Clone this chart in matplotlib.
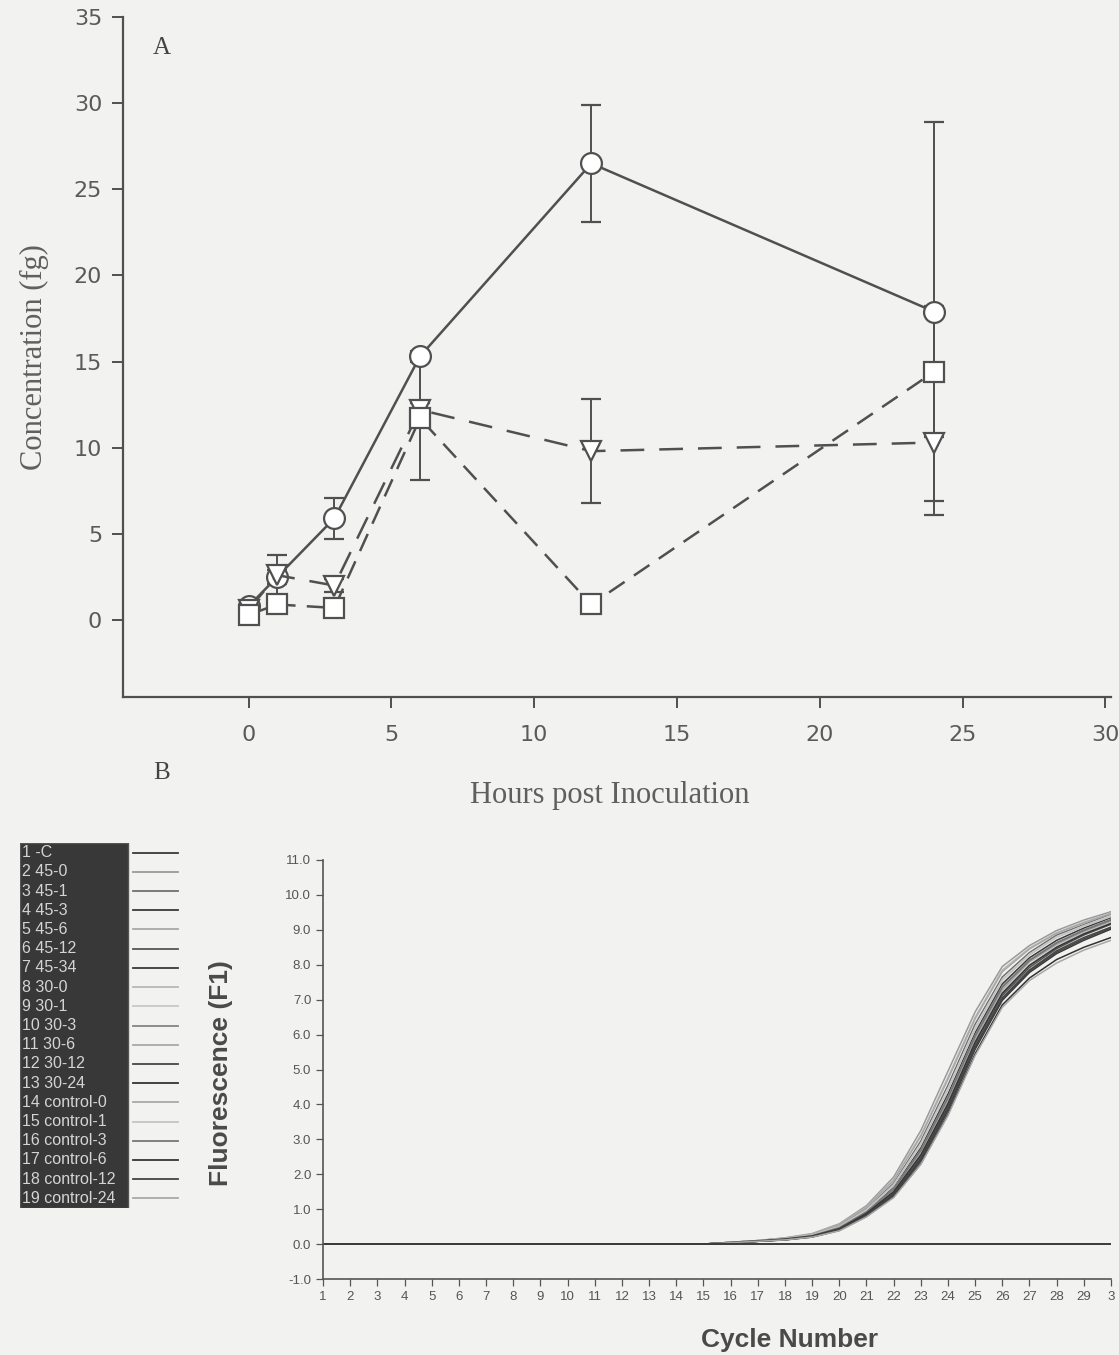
"""Two-panel figure: concentration time course (A) and real-time PCR amplification curves (B)."""

import matplotlib

matplotlib.use("Agg")
import matplotlib.pyplot as plt
from matplotlib.ticker import FormatStrFormatter

# ---- Panel A data: concentration (fg) vs hours post inoculation ----
hours = [0, 1, 3, 6, 12, 24]
conc_circle = [0.8, 2.5, 5.9, 15.3, 26.5, 17.9]
err_circle = [0.3, 0.4, 1.2, 0.3, 3.4, 11.0]
conc_triangle = [0.6, 2.6, 2.0, 12.2, 9.8, 10.3]
err_triangle = [0.2, 1.2, 0.4, 0.4, 3.0, 4.2]
conc_square = [0.3, 0.9, 0.7, 11.7, 0.9, 14.4]
err_square = [0.2, 0.3, 0.2, 3.6, 0.2, 3.8]

# ---- Panel B data: fluorescence (F1) vs cycle number ----
cycles = list(range(1, 31))
flat_part = [0.0] * 15  # cycles 1-15 sit on the baseline
neg_control = [0.0] * 30
curves_45 = [
    [0.05, 0.10, 0.18, 0.30, 0.58, 1.10, 1.92, 3.25, 4.95, 6.65, 7.95, 8.55, 8.98, 9.28, 9.52],
    [0.05, 0.10, 0.16, 0.27, 0.52, 1.00, 1.74, 2.95, 4.55, 6.30, 7.65, 8.35, 8.85, 9.15, 9.45],
    [0.05, 0.09, 0.15, 0.25, 0.48, 0.95, 1.62, 2.75, 4.30, 6.05, 7.45, 8.20, 8.70, 9.05, 9.35],
    [0.04, 0.09, 0.14, 0.24, 0.46, 0.91, 1.55, 2.62, 4.12, 5.88, 7.28, 8.08, 8.58, 8.95, 9.25],
    [0.04, 0.08, 0.13, 0.22, 0.43, 0.86, 1.46, 2.50, 3.96, 5.72, 7.12, 7.92, 8.46, 8.85, 9.16],
    [0.04, 0.08, 0.12, 0.21, 0.41, 0.82, 1.40, 2.38, 3.82, 5.58, 6.98, 7.78, 8.32, 8.70, 9.02],
]
curves_30 = [
    [0.05, 0.10, 0.17, 0.29, 0.56, 1.06, 1.85, 3.12, 4.78, 6.50, 7.85, 8.48, 8.92, 9.22, 9.48],
    [0.05, 0.10, 0.16, 0.26, 0.50, 0.98, 1.70, 2.88, 4.45, 6.20, 7.58, 8.30, 8.80, 9.12, 9.40],
    [0.05, 0.09, 0.15, 0.25, 0.47, 0.93, 1.60, 2.70, 4.22, 5.98, 7.38, 8.14, 8.64, 9.00, 9.30],
    [0.04, 0.09, 0.14, 0.23, 0.45, 0.89, 1.52, 2.57, 4.05, 5.80, 7.20, 8.00, 8.52, 8.90, 9.20],
    [0.04, 0.08, 0.13, 0.22, 0.42, 0.84, 1.44, 2.45, 3.90, 5.65, 7.05, 7.85, 8.40, 8.78, 9.08],
    [0.04, 0.08, 0.12, 0.20, 0.39, 0.79, 1.35, 2.30, 3.72, 5.45, 6.85, 7.62, 8.15, 8.50, 8.78],
]
curves_control = [
    [0.05, 0.10, 0.17, 0.28, 0.55, 1.04, 1.82, 3.08, 4.72, 6.45, 7.80, 8.45, 8.90, 9.20, 9.46],
    [0.05, 0.09, 0.16, 0.26, 0.50, 0.97, 1.68, 2.85, 4.40, 6.15, 7.55, 8.28, 8.78, 9.10, 9.38],
    [0.05, 0.09, 0.15, 0.24, 0.47, 0.92, 1.58, 2.68, 4.18, 5.95, 7.35, 8.12, 8.62, 8.98, 9.28],
    [0.04, 0.09, 0.14, 0.23, 0.44, 0.88, 1.50, 2.55, 4.02, 5.78, 7.18, 7.98, 8.50, 8.88, 9.18],
    [0.04, 0.08, 0.13, 0.21, 0.42, 0.83, 1.42, 2.42, 3.86, 5.62, 7.02, 7.82, 8.36, 8.74, 9.05],
    [0.04, 0.08, 0.12, 0.20, 0.38, 0.78, 1.33, 2.28, 3.68, 5.40, 6.78, 7.55, 8.05, 8.42, 8.70],
]
legend_labels = [
    "1 -C", "2 45-0", "3 45-1", "4 45-3", "5 45-6", "6 45-12", "7 45-34",
    "8 30-0", "9 30-1", "10 30-3", "11 30-6", "12 30-12", "13 30-24",
    "14 control-0", "15 control-1", "16 control-3", "17 control-6",
    "18 control-12", "19 control-24",
]
legend_colors = [
    "#3a3a3a", "#9a9a9a", "#707070", "#3a3a3a", "#a8a8a8", "#555555", "#3a3a3a",
    "#b8b8b8", "#c8c8c8", "#858585", "#a8a8a8", "#474747", "#333333",
    "#a8a8a8", "#c4c4c4", "#777777", "#353535", "#444444", "#a8a8a8",
]

BG = "#f2f2f0"
INK = "#505050"
W, H = 1119, 1355

fig = plt.figure(figsize=(W / 100, H / 100), dpi=100, facecolor=BG)


def px_box(left, top, right, bottom):
    return [left / W, 1 - bottom / H, (right - left) / W, (bottom - top) / H]


# ---------------- Panel A ----------------
ax = fig.add_axes(px_box(123, 17, 1111, 697))
ax.set_facecolor("none")
ax.set_xlim(-4.4, 30.2)
ax.set_ylim(-4.47, 35)
for side in ("top", "right"):
    ax.spines[side].set_visible(False)
for side in ("left", "bottom"):
    ax.spines[side].set_color(INK)
    ax.spines[side].set_linewidth(1.6)

series = [
    (conc_circle, err_circle, "o", (None, None)),
    (conc_triangle, err_triangle, "v", (9.5, 6.0)),
    (conc_square, err_square, "s", (7.5, 4.5)),
]
for values, errs, marker, dashes in series:
    line, caps, bars = ax.errorbar(
        hours, values, yerr=errs, color=INK, lw=1.8, marker=marker, ms=15,
        mfc="white", mec=INK, mew=1.6, ecolor=INK, elinewidth=1.4,
        capsize=7.5, capthick=1.4, zorder=3,
    )
    if dashes[0] is not None:
        line.set_dashes(dashes)

ax.set_xticks([0, 5, 10, 15, 20, 25, 30])
ax.set_yticks([0, 5, 10, 15, 20, 25, 30, 35])
ax.tick_params(axis="both", direction="out", length=8, width=1.4, color=INK,
               labelcolor="#5a5a5a", labelsize=16)
ax.tick_params(axis="x", pad=12)
ax.tick_params(axis="y", pad=7)
for lab in ax.get_xticklabels() + ax.get_yticklabels():
    lab.set_family("DejaVu Sans")

ax.set_ylabel("Concentration (fg)", family="Liberation Serif", fontsize=22,
              color="#5f5f5f", labelpad=18)
fig.text(610 / W, 1 - 795 / H, "Hours post Inoculation", family="Liberation Serif",
         fontsize=22, color="#5f5f5f", ha="center", va="center")
fig.text(162 / W, 1 - 48 / H, "A", family="Liberation Serif", fontsize=18,
         color="#444444", ha="center", va="center")
fig.text(162 / W, 1 - 773 / H, "B", family="Liberation Serif", fontsize=18,
         color="#444444", ha="center", va="center")

# ---------------- Panel B ----------------
bx = fig.add_axes(px_box(323, 860, 1111, 1279))
bx.set_facecolor("none")
bx.set_xlim(1, 30)
bx.set_ylim(-1, 11)
for side in ("top", "right"):
    bx.spines[side].set_visible(False)
for side in ("left", "bottom"):
    bx.spines[side].set_color("#555555")
    bx.spines[side].set_linewidth(1.2)

groups = [curves_45, curves_30, curves_control]
color_idx = 1
for group in groups:
    for curve in group:
        bx.plot(cycles, flat_part + curve, color=legend_colors[color_idx], lw=1.1)
        color_idx += 1
bx.plot(cycles, neg_control, color=legend_colors[0], lw=1.4)

bx.set_xticks(cycles)
bx.set_xticklabels([str(c) for c in cycles[:-1]] + ["3"])
bx.set_yticks([-1, 0, 1, 2, 3, 4, 5, 6, 7, 8, 9, 10, 11])
bx.yaxis.set_major_formatter(FormatStrFormatter("%.1f"))
bx.tick_params(axis="both", direction="out", length=5, width=0.9, color="#555555",
               labelcolor="#555555", labelsize=9.5)
bx.tick_params(axis="x", pad=4)
for lab in bx.get_xticklabels() + bx.get_yticklabels():
    lab.set_family("Liberation Sans")

fig.text(221 / W, 1 - 1073 / H, "Fluorescence (F1)", family="Liberation Sans",
         fontweight="bold", fontsize=19, color="#4a4a4a", rotation=90,
         ha="center", va="center")
fig.text(790 / W, 1 - 1340 / H, "Cycle Number", family="Liberation Sans",
         fontweight="bold", fontsize=19, color="#4a4a4a", ha="center", va="center")

# ---------------- Panel B sample legend ----------------
lx = fig.add_axes(px_box(20, 843, 180, 1208))
lx.set_xlim(0, 160)
lx.set_ylim(365, 0)
lx.axis("off")
lx.add_patch(plt.Rectangle((0, 0), 108, 365, facecolor="#383838", edgecolor="#555555"))
row_h = 365 / len(legend_labels)
for i, (label, col) in enumerate(zip(legend_labels, legend_colors)):
    y = (i + 0.5) * row_h
    lx.text(2, y, label, color="#d4d4d4", fontsize=11.5, family="Liberation Sans",
            va="center", ha="left")
    lx.plot([113, 158], [y, y], color=col, lw=1.3)

fig.savefig("out.png", dpi=100, facecolor=BG)
